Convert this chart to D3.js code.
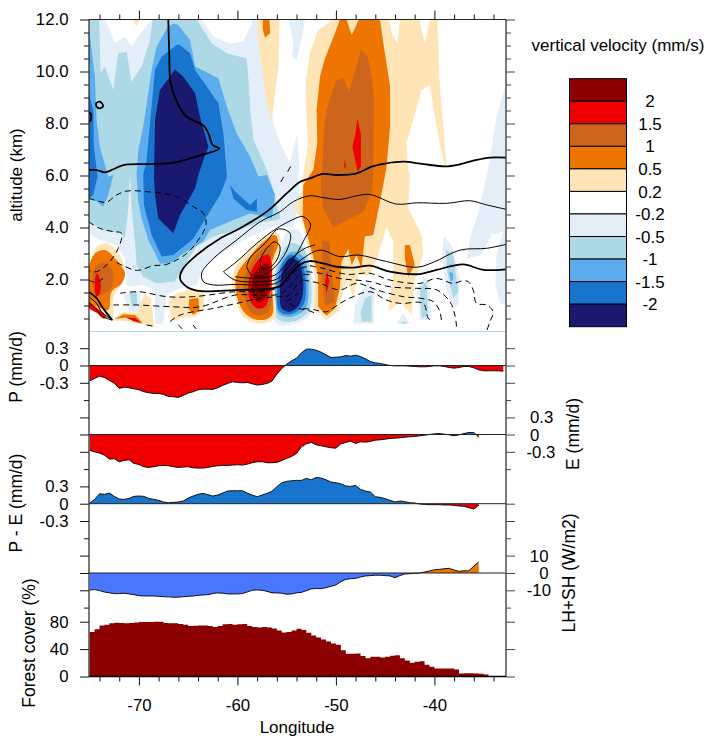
<!DOCTYPE html>
<html>
<head>
<meta charset="utf-8">
<script src="https://cdn.jsdelivr.net/npm/d3@7"></script>
<style>
  html, body { margin: 0; padding: 0; background: #fff; }
  text { font-family: "Liberation Sans", Arial, sans-serif; fill: #000; }
</style>
</head>
<body>
<div id="chart"></div>
<script>
// legend classes, top to bottom
const legendColors = ["#8B0000", "#EE0000", "#CD661D", "#EE7600", "#FFE4B5", "#FFFFFF", "#E4EEF9", "#ADD8E6", "#5CACEE", "#1874CD", "#191970"];
const legendLabels = ["2", "1.5", "1", "0.5", "0.2", "-0.2", "-0.5", "-1", "-1.5", "-2"];

// --- vertical velocity regions, [longitude, altitude km] ---
const paleMain = [[-75.2,12],[-57,12],[-56.68,9.16],[-56.34,8],[-55.66,7.24],[-54.98,6.72],[-54.67,6.47],[-53.93,7.62],[-53.72,6.34],[-53.8,5.96],[-53.63,5.12],[-53.97,4.6],[-54.3,3.96],[-56,4.1],[-59.05,3.58],[-61.42,3.07],[-63.46,2.43],[-64.14,1.79],[-65.83,1.66],[-67.19,1.4],[-67.53,0.31],[-68.37,0.31],[-68.37,1.6],[-69.56,1.79],[-70.92,1.72],[-71.25,1.79],[-71.42,2.81],[-72.27,3.33],[-73.97,3.52],[-75.1,3.78],[-75.2,3.78]];
const paleTopMid = [[-54.8,12],[-53.15,12],[-53.49,11.21],[-53.99,10.44],[-54.5,10.63],[-54.3,11.08]];
const paleRight = [[-32.7,9.55],[-33.69,8.26],[-34.37,6.6],[-34.7,6.02],[-35.4,4.74],[-36.4,3.58],[-36.7,2.81],[-35.2,2.94],[-34.2,3.71],[-33.05,3.84],[-33.7,2.94],[-33.8,1.79],[-33.35,1.08],[-32.7,1.02]];
const paleLower1 = [[-39.04,3.65],[-38.26,3.33],[-37.41,2.04],[-37.58,1.02],[-38.09,0.89],[-38.77,1.66],[-39.27,2.81]];
const paleLower2 = [[-48.24,0.31],[-48.07,1.02],[-46.72,1.92],[-46.04,1.53],[-46.2,0.31]];
const paleLower3 = [[-43.84,0.31],[-43.17,0.7],[-42.49,0.31]];
const paleLower4 = [[-41.81,1.6],[-40.96,2.11],[-40.52,1.92],[-40.29,0.44],[-41.47,0.44]];
const paleLower5 = [[-71.6,1.4],[-69.9,1.6],[-69.73,0.77],[-70.92,0.7]];
const paleTopLeft = [[-74.03,12],[-73.9,9.93],[-73.46,10.19],[-72.61,9.29],[-72.1,10.7],[-71.25,10.76],[-70.75,9.61],[-69.73,10.19],[-68.88,11.21],[-68.61,12]];

const whiteTopLeft = [[-73.46,12],[-72.95,11.6],[-72.44,11.08],[-71.42,11.34],[-70.75,10.96],[-70.07,11.34],[-68.71,12]];
const whiteTopMid = [[-63.63,12],[-62.44,11.34],[-60.75,11.08],[-59.39,11.15],[-58.54,11.85],[-58.44,12]];

const lightMain = [[-75.2,12],[-64.14,12],[-62.6,11.08],[-61.08,10.7],[-59.05,10.5],[-58.9,9.8],[-58.7,8.52],[-58.37,7.37],[-57,6.2],[-56.5,5.63],[-56,4.87],[-55.66,4.35],[-56,4.29],[-58.03,4.16],[-60.07,3.9],[-62.44,3.65],[-64.14,3.26],[-65.5,2.49],[-66.34,1.92],[-68.2,1.85],[-69.56,2.11],[-70.24,2.56],[-70.4,3.45],[-70.75,4.74],[-70.9,6.15],[-71.08,4.74],[-71.42,3.58],[-71.9,3.78],[-73.6,3.9],[-75.1,4.22],[-75.2,4.22]];
const lightLower1 = [[-38.83,3.13],[-38.09,3],[-37.58,1.53],[-38.09,1.28],[-38.7,2.3]];
const lightLower2 = [[-47.06,1.27],[-46.38,1.4],[-46.38,0.38],[-47.39,0.38],[-47.5,0.76]];
const lightLower3 = [[-43.5,0.31],[-43.0,0.4],[-42.7,0.31]];
const lightLower4 = [[-41.47,1.66],[-40.8,1.92],[-40.63,0.63],[-41.3,0.5]];
const lightLower5 = [[-70.92,1.47],[-70.24,1.53],[-70.17,1.02],[-70.75,0.96]];

const midMain = [[-66.41,11.85],[-67.02,11.75],[-68.2,10.96],[-68.71,10.06],[-69.56,7.88],[-70.07,6.98],[-70.24,6.02],[-70.07,5],[-69.73,4.35],[-69.05,3.52],[-67.86,2.62],[-66.85,2.62],[-65.49,3],[-63.46,3.46],[-62.78,3.9],[-60.41,4.29],[-58.71,4.54],[-56.51,4.35],[-56.17,5.25],[-57.02,6.02],[-57.86,5.96],[-58.71,6.72],[-60.07,7.62],[-61.08,8.65],[-61.93,9.74],[-64.3,10.19],[-64.81,11.21],[-66,11.79]];
const midLeft = [[-75.2,11.72],[-75.1,11.72],[-74.47,9.8],[-74.3,8.13],[-73.97,7.11],[-73.12,5.96],[-72.6,6.02],[-73.12,5.25],[-73.63,4.8],[-74.3,5],[-75.1,5.12],[-75.2,5.12]];
const midLower = [[-38.49,2.3],[-38.09,2.24],[-38.09,1.98],[-38.36,1.94]];

const darkMain = [[-66.17,11.02],[-67.7,10.57],[-68.37,10.06],[-68.88,8],[-69.22,6.6],[-69.56,6.02],[-69.49,4.87],[-68.71,3.71],[-67.69,2.88],[-66.51,2.94],[-64.81,3.46],[-64.47,3.58],[-62.6,4.74],[-61.76,5.25],[-61.08,5.9],[-61.08,6.08],[-61.42,7.62],[-61.93,8.78],[-64.3,10.06],[-64.81,10.7],[-65.83,11.02]];
const darkLeft = [[-75.2,9.16],[-75.1,9.16],[-74.64,8.52],[-74.58,7.11],[-74.2,5.96],[-74.64,5.25],[-75.1,5.12],[-75.2,5.12]];
const darkPatch = [[-60.75,5.63],[-60.24,5.38],[-58.71,4.87],[-58.03,5.12],[-58.03,4.61],[-59.05,4.67],[-60.41,5.12]];

const navyMain = [[-66.34,10.08],[-67.86,9.29],[-68.37,8.13],[-68.47,5.96],[-68.37,5.25],[-68.03,4.35],[-66.51,3.78],[-65.83,4.48],[-64.3,5.5],[-63.97,6.02],[-63.46,6.6],[-62.95,7.11],[-63.8,8.26],[-64.3,9.16],[-65.49,9.8]];

const moccasinMain = [[-50.27,12],[-51.29,11.72],[-51.79,11.6],[-52.64,10.7],[-53.05,9.67],[-53.05,8.52],[-52.81,7.24],[-53.32,5.96],[-53.49,5.38],[-54.33,4.74],[-53.49,4.35],[-52.81,3.2],[-52.14,2.17],[-52.3,0.89],[-50.95,0.44],[-49.76,0.76],[-49.26,1.53],[-48.85,1.98],[-48.24,1.28],[-47.73,2.17],[-46.55,2.17],[-45.8,2.81],[-44.86,4.03],[-44.18,3.46],[-44.18,2.17],[-44.69,0.76],[-43.5,1.15],[-42.32,0.63],[-41.98,2.04],[-41.13,2.94],[-41.3,3.71],[-42.66,4.74],[-42.49,6.02],[-42.66,6.21],[-42.83,7.24],[-42.15,8.13],[-41.3,9.29],[-40.46,9.48],[-39.78,7.88],[-38.93,6.34],[-38.76,6.28],[-39.51,9.8],[-39.61,11.08],[-39.68,12],[-40.46,12],[-40.96,11.08],[-41.54,12],[-43.5,12],[-43.77,11.08],[-44.35,11.47],[-44.6,12]];
const moccasinColumn = [[-58.03,12],[-55.73,12],[-55.83,10.2],[-56.5,8.13],[-57.02,8.8],[-57.86,11.08]];
const moccasinTiny = [[-70.58,12],[-69.9,12],[-70.24,11.72]];
const moccasinLower = [[-67.02,1.15],[-66.17,1.47],[-64.8,1.6],[-63.45,1.53],[-63.3,0.89],[-64.3,0.57],[-65.8,0.51],[-66.7,0.38]];
const moccasinBottom = [[-72.7,0.44],[-71.6,0.74],[-70.24,0.7],[-69.39,1.47],[-68.8,1.28],[-68.47,0.22],[-69.39,0.25],[-71.08,0.38]];

const orangeMain = [[-49.6,12],[-50.1,11.47],[-51.12,10.5],[-51.62,9.8],[-51.96,8.52],[-51.89,7.24],[-52.3,6.21],[-53.32,5.63],[-53.38,4.35],[-52.64,3.33],[-51.8,2.17],[-51.8,0.95],[-50.95,0.61],[-50.1,0.89],[-49.6,1.66],[-49.42,2.69],[-48.75,3.17],[-48.4,2.56],[-47.9,2.94],[-47.4,2.43],[-47.06,3.65],[-46.2,3.71],[-45,6.02],[-44.86,6.34],[-44.5,7.88],[-44.5,9.42],[-45.03,10.7],[-45.53,12]];
const orangeNotch = [[-48.92,12],[-48.41,11.4],[-47.66,12]];
const orangeSmall = [[-43,3.33],[-42.49,3.33],[-41.98,2.56],[-42.66,2.11],[-43,2.81]];
const orangeTop = [[-57.42,12],[-56.75,12],[-56.68,11.47],[-57.19,11.3],[-57.42,11.6]];
const orangeLower = [[-64.88,1.25],[-63.97,1.3],[-63.86,0.83],[-64.47,0.63],[-64.98,0.89]];
const orangeBottom = [[-72.44,0.48],[-71.6,0.66],[-70.41,0.63],[-69.56,0.31],[-70.41,0.44],[-71.42,0.53]];

const chocolateMain = [[-47.5,10.83],[-46.82,10.63],[-46.38,9.8],[-46.14,9.03],[-46.2,5.96],[-46.38,5.38],[-47.22,4.6],[-48.58,4.35],[-50.27,4],[-51.3,4.74],[-51.56,5.63],[-51.39,6.34],[-51.12,8.13],[-50.78,8.78],[-49.93,9.67],[-49.26,9.74],[-48.65,9.25],[-48.24,9.8],[-47.73,10.44]];
const chocolateLower = [[-51.39,3.52],[-50.68,3.46],[-50.44,2.3],[-50.1,1.15],[-51.12,0.98],[-51.4,2.17]];

const redUpper = [[-47.8,8.2],[-47.46,7.56],[-47.46,6.34],[-47.8,6.15],[-48.34,7.11],[-48.07,7.49]];
const redTiny = [[-49.09,6.62],[-48.98,6.31],[-49.19,6.31]];
const redLower = [[-50.88,2.3],[-50.68,1.92],[-50.95,1.47],[-51.12,1.92]];
const redBottom = [[-71.25,0.53],[-70.41,0.53],[-69.73,0.31],[-70.58,0.4]];

// the updraft / downdraft pair and the west coast cell
const lobeMoccasin = [[-56,3.82],[-55.58,3.33],[-56.26,2.56],[-56.19,1.53],[-56.26,0.51],[-57.88,0.31],[-59.4,0.57],[-60.25,1.34],[-60.58,1.92],[-60.1,2.55],[-58.9,3.07],[-57.36,3.59]];
const lobeOrange = [[-56.19,3.71],[-55.85,3.39],[-56.46,2.69],[-56.46,1.53],[-56.52,0.61],[-57.88,0.44],[-59.23,0.7],[-60.07,1.4],[-60.07,2.17],[-58.73,2.88],[-57.36,3.45]];
const lobeChocolate = [[-56.36,3.33],[-56.6,2.69],[-56.52,1.15],[-57.03,0.7],[-58.22,0.63],[-59.06,1.02],[-59.4,1.85],[-58.73,2.56],[-57.54,3.13]];
const lobeRed = [[-56.87,2.97],[-56.52,2.56],[-56.69,1.53],[-57.2,0.95],[-58.05,0.89],[-58.83,1.34],[-58.73,2.17],[-57.88,2.75]];
const lobeDarkRed = [[-56.87,2.62],[-56.69,2.3],[-56.87,1.6],[-57.54,1.15],[-58.22,1.21],[-58.56,1.79],[-58.05,2.37],[-57.36,2.56]];
const lobePale = [[-54.83,3.9],[-53.82,3.9],[-52.98,3.07],[-52.3,1.92],[-52.63,0.63],[-54.49,0.27],[-56.1,0.31],[-56.52,1.66],[-55.85,2.94]];
const lobeLight = [[-54.66,3.39],[-53.31,3.2],[-52.53,1.92],[-52.81,0.76],[-54.49,0.38],[-56,0.51],[-56.36,1.66],[-55.85,2.69]];
const lobeMid = [[-54.49,3.07],[-53.31,2.88],[-52.81,1.92],[-53.07,0.89],[-54.49,0.57],[-55.88,0.7],[-56.19,1.66],[-55.78,2.49]];
const lobeDark = [[-54.66,2.94],[-53.58,2.73],[-53.07,1.92],[-53.31,1.02],[-54.66,0.66],[-55.75,0.79],[-55.95,1.66],[-55.58,2.49]];
const lobeNavy = [[-54.66,2.82],[-53.82,2.69],[-53.31,1.92],[-53.65,1.08],[-54.66,0.76],[-55.5,0.89],[-55.68,1.66],[-55.34,2.43]];
const westMoccasin = [[-75.2,2.3],[-75.1,2.3],[-74.3,3.26],[-73.29,3.39],[-71.93,2.94],[-71.42,2.3],[-71.93,1.79],[-72.6,1.28],[-72.7,0.5],[-73.97,0.7],[-75.2,0.89]];
const westOrange = [[-75.2,2.3],[-74.47,3],[-73.46,3.13],[-72.44,2.81],[-71.42,2.24],[-71.76,1.85],[-72.78,1.53],[-73.12,0.83],[-74.3,0.96],[-75.2,1.02]];
const westChocolate = [[-74.64,2.3],[-73.97,2.62],[-73.12,2.56],[-72.6,2.17],[-72.95,1.6],[-73.97,1.4],[-74.47,1.34]];
const westRed = [[-74.47,1.98],[-74.24,2.24],[-73.9,1.92],[-73.97,1.47],[-74.3,1.34]];
const westRedStrip = [[-75.2,1.1],[-74.1,0.86],[-73.3,0.53],[-73.6,0.5],[-74.3,0.72],[-75.2,0.95]];

// --- circulation contours, [longitude, altitude km] ---
const contourThickWest = [[-67.02,12],[-66.92,10.7],[-66.78,9.55],[-66,8.71],[-65.15,8.26],[-63.39,7.9],[-62.95,7.62],[-62.51,7.17],[-61.83,7.04],[-63.46,6.81],[-66.51,6.49],[-69.22,6.44],[-71.59,6.4],[-72.61,6.24],[-73.46,6.12],[-74.3,6.21],[-75.1,6.21]];
const contourThickLoop = [[-32.73,6.69],[-34.37,6.69],[-35.72,6.6],[-37.41,6.43],[-38.93,6.35],[-41.13,6.44],[-43.16,6.53],[-44.86,6.47],[-46.38,6.34],[-47.9,6.08],[-49.93,6.02],[-51.29,6.06],[-52.64,5.89],[-53.63,5.76],[-55,5.31],[-57.02,4.61],[-59.73,3.97],[-61.76,3.58],[-64.14,2.94],[-65.49,2.43],[-65.83,2.04],[-65.15,1.72],[-63.97,1.56],[-61.76,1.56],[-59.73,1.6],[-57.2,1.63],[-55.68,1.75],[-54.66,2.2],[-53.65,2.58],[-52.64,2.71],[-51.29,2.62],[-49.93,2.49],[-48.24,2.46],[-46.55,2.53],[-44.52,2.3],[-41.47,2.21],[-39.78,2.37],[-37.07,2.58],[-35.04,2.37],[-32.73,2.39]];
const contourThinLoop = [[-32.73,4.7],[-34.7,4.87],[-36.4,5.03],[-38.76,4.93],[-41.81,4.95],[-43.84,4.9],[-46.55,5.27],[-47.9,5.22],[-49.6,5.08],[-51.29,5.15],[-52.64,5.22],[-54.3,5],[-55.66,4.61],[-57.7,4.22],[-60.07,3.52],[-62.44,2.81],[-63.63,2.24],[-63.46,1.92],[-62.44,1.79],[-60.25,1.81],[-57.54,1.79],[-55.85,1.89],[-54.49,2.43],[-53.31,2.82],[-51.62,3.13],[-49.6,2.88],[-47.73,2.94],[-44.86,2.69],[-41.81,2.47],[-40.12,2.66],[-37.41,3.13],[-34.7,3.2],[-32.73,3.35]];
const contourInner1 = [[-61.42,2.3],[-60.07,2.69],[-58.03,3.39],[-56,3.97],[-53.63,4.42],[-53.32,4.42],[-52.57,4.13],[-53.32,3.46],[-54.16,2.88],[-55.85,2.05],[-57.54,1.92],[-60.25,1.98],[-61.42,2.3]];
const contourInner2 = [[-59.06,2.49],[-58.72,2.83],[-57.2,3.39],[-55.85,3.94],[-54.66,3.78],[-54.83,3.26],[-55.85,2.62],[-57.37,2.17],[-58.55,2.17],[-59.06,2.49]];
const contourInner3 = [[-57.71,2.75],[-57.03,3.2],[-56.19,3.45],[-55.68,3.26],[-56,2.75],[-56.87,2.43],[-57.54,2.43],[-57.71,2.75]];
const contourFan = [[-60.25,2.11],[-58.22,2.05],[-56.19,2.17],[-54.49,2.82],[-53.14,3.2],[-52.13,3.33]];
const contourOval = [[-74.37,8.78],[-73.97,8.84],[-73.63,8.67],[-73.97,8.58],[-74.3,8.65],[-74.37,8.78]];
const contourEdge = [[-75.1,8.42],[-74.9,8.39],[-74.9,8.11],[-75.1,8.06]];
const contourSw1 = [[-75.1,1.34],[-74.3,1.08],[-73.8,0.76],[-72.71,0.44]];
const contourSw2 = [[-75.1,1.15],[-74.47,0.89],[-73.63,0.57],[-72.71,0.44]];
const contourSwThick = [[-75.1,1.53],[-74.3,1.28],[-73.63,0.89],[-72.71,0.44]];

const dashedUpper = [[-75.1,5.12],[-73.97,5],[-73.29,4.97],[-72.27,5.25],[-71.25,5.4],[-69.22,5.38],[-66.17,5.19],[-64.47,4.8],[-63.46,4.54],[-63.19,4.1],[-63.97,3.52],[-65.15,3],[-67.19,2.58],[-68.54,2.53],[-70.24,2.35],[-71.59,2.53],[-72.44,2.69]];
const dashedWest = [[-75.1,4.22],[-74,3.97],[-72.6,3.84],[-71.76,3.78],[-72.1,3.2],[-73.12,2.62],[-74.3,2.3],[-75.1,2.33]];
const dashedWest2 = [[-75.1,1.98],[-74.3,1.89],[-73.29,2.17]];
const dashedMid1 = [[-71.93,1.47],[-70,1.53],[-67.19,1.34],[-64.47,1.34],[-60.25,1.53],[-58.22,1.53],[-56,1.66],[-55,1.92],[-53.98,2.37],[-52.46,2.53]];
const dashedMid2 = [[-72.6,1.02],[-70.24,1.02],[-66.51,0.95],[-63.8,0.95],[-60.25,1.4],[-58.22,1.4],[-55.85,1.43],[-54.66,1.72],[-53.65,2.17],[-52.46,2.17]];
const dashedMid3 = [[-66.85,0.38],[-65.83,0.63],[-62.44,0.89],[-60.07,1.08],[-57.7,1.28],[-55.85,1.34],[-54.83,1.38],[-53.98,1.79],[-53.47,1.98]];
const dashedNavy1 = [[-55,1.15],[-53.82,1.47]];
const dashedNavy2 = [[-54.66,1.08],[-53.82,0.89],[-52.97,0.83],[-51.8,0.66]];
const dashedEast1 = [[-52.64,2.53],[-51.29,2.43],[-48.92,2.2],[-46.55,2.24],[-44.52,1.98],[-41.47,1.85],[-39.78,2.04],[-38.09,1.85],[-37.24,1.94],[-36.56,1.92],[-36.06,1.6],[-35.72,1.08],[-34.7,1.02],[-34.03,0.76],[-34.37,0.38],[-34.7,0]];
const dashedEast2 = [[-52.98,2.3],[-51.62,2.24],[-49.6,2.04],[-46.55,1.92],[-44.52,1.72],[-41.81,1.66],[-39.78,1.6],[-38.43,1.15],[-37.92,0.63],[-37.75,0.19]];
const dashedEast3 = [[-53.32,1.98],[-51.62,1.85],[-49.6,1.6],[-47.9,1.85],[-45.87,1.6],[-43.16,1.34],[-41.47,1.28],[-40.12,1.15],[-39.44,0.76],[-39.27,0.31]];
const dashedEast4 = [[-53.32,0.89],[-52.13,0.83],[-50.95,0.76],[-49.6,1.08],[-48.24,1.34],[-46.55,1.53],[-44.86,1.21],[-43.5,1.08],[-41.13,1.08],[-40.63,0.51],[-40.12,0.38]];
const dashedBottom1 = [[-69.22,0.25],[-68.37,0.19]];
const dashedBottom2 = [[-66.0,0.25],[-65.6,0.1]];
const dashedBottom3 = [[-64.5,0.25],[-64.2,0.1]];
const dashedSpot1 = [[-54.9,6.15],[-54.6,6.35]];
const dashedSpot2 = [[-55.6,5.75],[-55.3,5.95]];

// --- panel series, one value every half degree from 75W ---
const precipValues = [-0.265,-0.225,-0.185,-0.208,-0.26,-0.306,-0.398,-0.375,-0.387,-0.404,-0.421,-0.456,-0.473,-0.485,-0.485,-0.502,-0.537,-0.542,-0.554,-0.519,-0.479,-0.456,-0.421,-0.41,-0.41,-0.415,-0.387,-0.346,-0.312,-0.283,-0.294,-0.3,-0.294,-0.317,-0.34,-0.329,-0.312,-0.271,-0.15,-0.052,0.023,0.081,0.127,0.219,0.283,0.283,0.265,0.231,0.185,0.138,0.144,0.15,0.173,0.162,0.179,0.156,0.115,0.069,0.046,0.035,0.017,0,-0.006,-0.006,-0.006,-0.012,-0.017,-0.023,-0.023,-0.017,-0.006,-0.006,-0.017,-0.035,-0.046,-0.035,-0.017,-0.017,-0.04,-0.075,-0.092,-0.092,-0.092,-0.092,-0.098];
const evapValues = [-0.277,-0.3,-0.323,-0.358,-0.427,-0.421,-0.473,-0.45,-0.439,-0.502,-0.519,-0.56,-0.571,-0.56,-0.542,-0.537,-0.542,-0.56,-0.571,-0.565,-0.56,-0.577,-0.583,-0.583,-0.571,-0.554,-0.542,-0.537,-0.537,-0.531,-0.525,-0.531,-0.514,-0.49,-0.473,-0.473,-0.49,-0.49,-0.485,-0.45,-0.415,-0.381,-0.329,-0.214,-0.162,-0.138,-0.179,-0.196,-0.214,-0.231,-0.237,-0.162,-0.138,-0.115,-0.156,-0.127,-0.133,-0.121,-0.098,-0.092,-0.081,-0.069,-0.063,-0.058,-0.046,-0.04,-0.035,-0.023,-0.012,0,0.012,0.017,0.006,-0.006,-0.023,-0.006,0.017,0.035,0.035,-0.046];
const pMinusEValues = [0.012,0.075,0.173,0.162,0.185,0.127,0.081,0.075,0.092,0.127,0.133,0.127,0.092,0.075,0.058,0.029,0.017,0.023,0.029,0.046,0.098,0.133,0.162,0.179,0.156,0.133,0.15,0.185,0.219,0.225,0.225,0.225,0.185,0.15,0.121,0.15,0.179,0.214,0.294,0.364,0.387,0.398,0.404,0.404,0.439,0.415,0.456,0.444,0.415,0.375,0.364,0.346,0.306,0.3,0.317,0.248,0.219,0.202,0.121,0.11,0.087,0.058,0.029,0.046,0.035,0.017,0.012,-0.006,-0.012,-0.017,-0.017,-0.017,-0.023,-0.023,-0.029,-0.04,-0.046,-0.069,-0.092,-0.029];
const fluxValues = [-9.8,-9.6,-10.2,-11,-11.5,-11.9,-11.9,-11.7,-12.1,-12.5,-13.1,-13.3,-13.3,-13.3,-13.5,-13.7,-13.8,-14,-14,-13.7,-13.5,-13.3,-12.9,-12.7,-12.5,-11.9,-11.5,-11.7,-12.1,-12.1,-12.1,-11.9,-11,-10,-9.8,-10,-10.6,-11.5,-11.5,-11.7,-12.3,-12.1,-11.5,-11.2,-10.2,-9.2,-9,-9,-8.5,-7.7,-6.9,-5,-3.7,-3.3,-3.1,-2.3,-1.7,-1.5,-1.3,-1.3,-1.5,-1.7,-2.7,-1.5,-0.6,-0.4,-0.2,0,0.6,1.2,1.9,2.1,2.5,2.7,1.7,1,1.3,1.3,4,6.3];
const forestValues = [64.9,68.8,74.6,75.6,77.6,78.5,78,77.6,78,79,79.5,79.5,79.5,80,80,78,77.6,77.6,76.6,75.6,73.7,74.1,74.6,74.6,73.7,72.2,73.7,76.1,76.6,75.6,76.1,76.6,73.7,72.2,71.7,72.2,71.7,70.2,67.3,64.4,64.9,67.3,69.8,67.8,63.9,60,57.1,54.1,51.2,48.3,46.3,38.5,33.2,33.2,33.7,29.8,26.8,28.8,28.8,27.8,28.8,30.2,31.2,26.8,23.4,20,21.5,22.4,17.1,14.1,11.7,11.7,11.7,11.7,10.2,4.4,4.9,4.9,4.4,3.9,2.9,0,0,0,0];

// tick values
const altMajor = [2, 4, 6, 8, 10, 12];
const altMinor = [0.5, 1, 1.5, 2.5, 3, 3.5, 4.5, 5, 5.5, 6.5, 7, 7.5, 8.5, 9, 9.5, 10.5, 11, 11.5];
const lonMajor = [-70, -60, -50, -40];
const lonMinor = [-74, -72, -68, -66, -64, -62, -58, -56, -54, -52, -48, -46, -44, -42, -38, -36, -34];

var svgWidth = 707, svgHeight = 736;
var plotLeft = 89, plotRight = 506, plotTop = 19.5, plotBottom = 676.5;

var svg = d3.select("#chart").append("svg").attr("width", svgWidth).attr("height", svgHeight).style("display", "block");

var x = d3.scaleLinear().domain([-75.07, -32.73]).range([plotLeft, plotRight]);
var yAlt = d3.scaleLinear().domain([0, 12]).range([331.5, plotTop]);
var yP = d3.scaleLinear().domain([0.3, -0.3]).range([348.2, 382.8]);
var yE = d3.scaleLinear().domain([0.3, -0.3]).range([417.2, 451.8]);
var yPE = d3.scaleLinear().domain([0.3, -0.3]).range([486.4, 521]);
var yFlux = d3.scaleLinear().domain([10, -10]).range([555.7, 590.3]);
var yForest = d3.scaleLinear().domain([0, 80]).range([plotBottom, 621.7]);

var lons = d3.range(85).map(function (i) { return -75 + i * 0.5; });

svg.append("clipPath").attr("id", "plotClip").append("rect")
  .attr("x", plotLeft).attr("y", plotTop).attr("width", plotRight - plotLeft).attr("height", 331.5 - plotTop);

var field = svg.append("g").attr("clip-path", "url(#plotClip)");

var [darkRed, red, chocolate, orange, moccasin, white, pale, light, mid, dark, navy] = legendColors;

// painted in this order, later regions sit on top
var angular = [
  [paleMain, pale], [paleTopMid, pale], [paleRight, pale], [paleLower1, pale], [paleLower2, pale],
  [paleLower3, pale], [paleLower4, pale], [paleLower5, pale],
  [moccasinMain, moccasin], [moccasinColumn, moccasin], [moccasinTiny, moccasin],
  [lightMain, light], [lightLower1, light], [lightLower2, light], [lightLower3, light], [lightLower4, light], [lightLower5, light],
  [paleTopLeft, pale], [whiteTopLeft, white], [whiteTopMid, white], [moccasinTiny, moccasin],
  [midMain, mid], [midLeft, mid], [midLower, mid],
  [darkMain, dark], [darkLeft, dark], [darkPatch, dark], [navyMain, navy],
  [orangeMain, orange], [orangeNotch, moccasin], [orangeSmall, orange], [orangeTop, orange],
  [chocolateMain, chocolate], [chocolateLower, chocolate], [redUpper, red], [redTiny, red], [redLower, red],
  [moccasinLower, moccasin], [moccasinBottom, moccasin], [orangeLower, orange], [orangeBottom, orange], [redBottom, red]
];
var smooth = [
  [lobePale, pale], [lobeLight, light], [lobeMid, mid], [lobeDark, dark], [lobeNavy, navy],
  [lobeMoccasin, moccasin], [lobeOrange, orange], [lobeChocolate, chocolate], [lobeRed, red], [lobeDarkRed, darkRed],
  [westMoccasin, moccasin], [westOrange, orange], [westChocolate, chocolate], [westRed, red], [westRedStrip, red]
];

var ringPath = d3.line().x(function (d) { return x(d[0]); }).y(function (d) { return yAlt(d[1]); });

field.selectAll(".angular").data(angular).enter().append("path")
  .attr("d", function (d) { return ringPath.curve(d3.curveLinearClosed)(d[0]); })
  .attr("fill", function (d) { return d[1]; });

field.selectAll(".smooth").data(smooth).enter().append("path")
  .attr("d", function (d) { return ringPath.curve(d3.curveCatmullRomClosed)(d[0]); })
  .attr("fill", function (d) { return d[1]; });

// light blue line along the surface
svg.append("line").attr("x1", plotLeft).attr("x2", plotRight).attr("y1", yAlt(0)).attr("y2", yAlt(0))
  .attr("stroke", light).attr("stroke-width", 1);

// contours
var contourPath = d3.line().x(function (d) { return x(d[0]); }).y(function (d) { return yAlt(d[1]); }).curve(d3.curveCatmullRom);

function drawContours(lines, strokeWidth, dash) {
  field.append("g").selectAll("path").data(lines).enter().append("path")
    .attr("d", contourPath)
    .attr("fill", "none")
    .attr("stroke", "#000")
    .attr("stroke-width", strokeWidth)
    .attr("stroke-dasharray", dash);
}
drawContours([contourThinLoop, contourInner1, contourInner2, contourInner3, contourFan, contourSw1, contourSw2], 1, null);
drawContours([contourThickWest, contourThickLoop, contourOval, contourEdge, contourSwThick], 1.8, null);
drawContours([dashedUpper, dashedWest, dashedWest2, dashedMid1, dashedMid2, dashedMid3, dashedNavy1, dashedNavy2, dashedEast1, dashedEast2, dashedEast3, dashedEast4, dashedBottom1, dashedBottom2, dashedBottom3, dashedSpot1, dashedSpot2], 1, "6,4");

// signed area panels, values above zero get one colour and values below the other
function drawPanel(name, values, y, posColor, negColor) {
  var zero = y(0);
  var series = values.map(function (v, i) { return [lons[i], v]; });
  var area = d3.area().x(function (d) { return x(d[0]); }).y0(zero).y1(function (d) { return y(d[1]); });

  svg.append("clipPath").attr("id", name + "Pos").append("rect")
    .attr("x", plotLeft).attr("y", zero - 80).attr("width", plotRight - plotLeft).attr("height", 80);
  svg.append("clipPath").attr("id", name + "Neg").append("rect")
    .attr("x", plotLeft).attr("y", zero).attr("width", plotRight - plotLeft).attr("height", 80);

  svg.append("path").attr("d", area(series)).attr("fill", posColor).attr("clip-path", "url(#" + name + "Pos)");
  svg.append("path").attr("d", area(series)).attr("fill", negColor).attr("clip-path", "url(#" + name + "Neg)");
  svg.append("path")
    .attr("d", d3.line().x(function (d) { return x(d[0]); }).y(function (d) { return y(d[1]); })(series))
    .attr("fill", "none").attr("stroke", "#000").attr("stroke-width", 0.9);
  svg.append("line").attr("x1", plotLeft).attr("x2", plotRight).attr("y1", zero).attr("y2", zero)
    .attr("stroke", "#222").attr("stroke-width", 1);
}
drawPanel("precip", precipValues, yP, dark, red);
drawPanel("evap", evapValues, yE, dark, red);
drawPanel("pme", pMinusEValues, yPE, dark, red);
drawPanel("flux", fluxValues, yFlux, orange, "#4876FF");

// forest cover steps
svg.append("path")
  .attr("d", d3.area().x(function (d, i) { return x(lons[i]); }).y0(yForest(0)).y1(function (d) { return yForest(d); }).curve(d3.curveStepAfter)(forestValues))
  .attr("fill", darkRed);

// axes
var fontSize = 16.8;
function styleAxis(g, color) {
  g.select(".domain").remove();
  g.selectAll("line").attr("stroke", color).attr("stroke-width", 1);
  g.selectAll("text").style("font-size", fontSize + "px").attr("fill", "#000");
}
function leftTicks(y, values, size, labels) {
  var g = svg.append("g").attr("transform", "translate(" + plotLeft + ",0)")
    .call(d3.axisLeft(y).tickValues(values).tickSize(size).tickPadding(11.5).tickFormat(labels || function () { return ""; }));
  styleAxis(g, "#111");
}
function rightTicks(y, values, size) {
  var g = svg.append("g").attr("transform", "translate(" + plotRight + ",0)")
    .call(d3.axisRight(y).tickValues(values).tickSize(size).tickFormat(function () { return ""; }));
  styleAxis(g, "#444");
}

var plainLabel = function (d) { return String(d); };
leftTicks(yAlt, altMajor, 9, d3.format(".1f"));
leftTicks(yAlt, altMinor, 5);
rightTicks(yAlt, altMajor, 9);
rightTicks(yAlt, altMinor, 5);

[[yP, [0.3, 0, -0.3]], [yPE, [0.3, 0, -0.3]], [yForest, [80, 40, 0]]].forEach(function (p) {
  leftTicks(p[0], p[1], 9, plainLabel);
});
var unlabelled = [[yP, [-0.9]], [yE, [0, -0.3]], [yPE, [-0.9]], [yFlux, [0, -10]]];
unlabelled.forEach(function (p) { leftTicks(p[0], p[1], 9); });
[[yP, [-0.6]], [yE, [-0.6]], [yPE, [-0.6]], [yFlux, [-20]]].forEach(function (p) {
  leftTicks(p[0], p[1], 5);
  rightTicks(p[0], p[1], 5);
});
[[yP, [0.3, 0, -0.3, -0.9]], [yE, [0, -0.3]], [yPE, [0, -0.3, -0.9]], [yFlux, [0, -10]], [yForest, [80, 40, 0]]].forEach(function (p) {
  rightTicks(p[0], p[1], 9);
});

// right hand labels are placed by hand because they only sit on two panels
function rightLabels(y, values, anchor, xPos, nudge) {
  svg.append("g").selectAll("text").data(values).enter().append("text")
    .attr("x", function (d) { return xPos + (d < 0 ? nudge : 0); })
    .attr("y", function (d) { return y(d); })
    .attr("dy", "0.36em")
    .attr("text-anchor", anchor)
    .style("font-size", fontSize + "px")
    .text(plainLabel);
}
rightLabels(yE, [0.3, 0, -0.3], "start", 530, -3.5);
rightLabels(yFlux, [10, 0, -10], "end", 548.5, 2.5);

// longitude ticks
function lonTicks(axis, ypos, values, size, labels) {
  var g = svg.append("g").attr("transform", "translate(0," + ypos + ")")
    .call(axis(x).tickValues(values).tickSize(size).tickPadding(14).tickFormat(labels || function () { return ""; }));
  styleAxis(g, "#111");
}
lonTicks(d3.axisTop, plotTop, lonMajor, 9);
lonTicks(d3.axisTop, plotTop, lonMinor, 5);
lonTicks(d3.axisBottom, plotBottom, lonMajor, 9, plainLabel);
lonTicks(d3.axisBottom, plotBottom, lonMinor, 5);

// frame
svg.append("line").attr("x1", plotLeft).attr("x2", plotLeft).attr("y1", plotTop).attr("y2", plotBottom).attr("stroke", "#222").attr("stroke-width", 1.2);
svg.append("line").attr("x1", plotRight).attr("x2", plotRight).attr("y1", plotTop).attr("y2", plotBottom).attr("stroke", "#444").attr("stroke-width", 1.4);
svg.append("line").attr("x1", plotLeft).attr("x2", plotRight).attr("y1", plotTop).attr("y2", plotTop).attr("stroke", "#222").attr("stroke-width", 1);
svg.append("line").attr("x1", plotLeft).attr("x2", plotRight).attr("y1", plotBottom).attr("y2", plotBottom).attr("stroke", "#000").attr("stroke-width", 1.4);

// axis titles
function verticalTitle(label, xPos, yPos, size) {
  svg.append("text")
    .attr("transform", "translate(" + xPos + "," + yPos + ") rotate(-90)")
    .attr("text-anchor", "middle")
    .style("font-size", size + "px")
    .text(label);
}
verticalTitle("altitude (km)", 22, 175, 17);
verticalTitle("P (mm/d)", 22, 367, 17.5);
verticalTitle("P - E (mm/d)", 22, 503, 17.5);
verticalTitle("Forest cover (%)", 35, 643, 17.5);
verticalTitle("E (mm/d)", 579, 434, 17.5);
verticalTitle("LH+SH (W/m2)", 574.5, 573, 17.5);

svg.append("text").attr("x", 297).attr("y", 733).attr("text-anchor", "middle").style("font-size", "17px").text("Longitude");
svg.append("text").attr("x", 618).attr("y", 51).attr("text-anchor", "middle").style("font-size", "17px").text("vertical velocity (mm/s)");

// legend
var legendY = d3.scaleBand().domain(d3.range(legendColors.length)).range([78.7, 326.7]);
svg.append("g").selectAll("rect").data(legendColors).enter().append("rect")
  .attr("x", 569.5).attr("width", 57)
  .attr("y", function (d, i) { return legendY(i); })
  .attr("height", legendY.bandwidth())
  .attr("fill", function (d) { return d; })
  .attr("stroke", "#000").attr("stroke-width", 1);
svg.append("g").selectAll("text").data(legendLabels).enter().append("text")
  .attr("x", 650)
  .attr("y", function (d, i) { return legendY(i + 1); })
  .attr("dy", "0.36em")
  .attr("text-anchor", "middle")
  .style("font-size", "17px")
  .text(function (d) { return d; });
</script>
</body>
</html>
